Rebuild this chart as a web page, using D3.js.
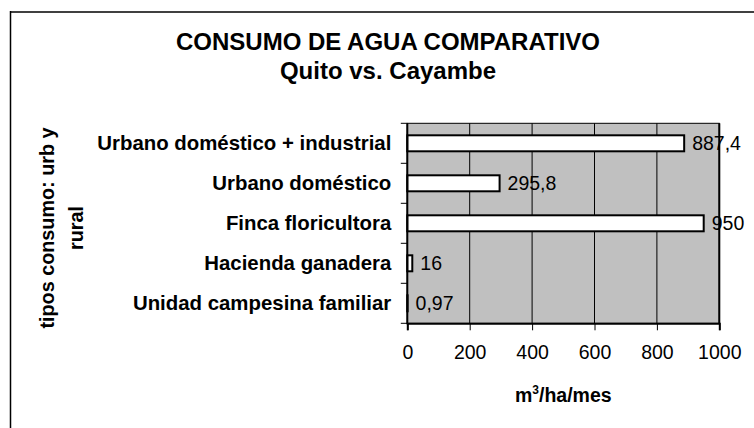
<!DOCTYPE html>
<html lang="es">

<head>
    <meta charset="UTF-8">
    <title>Consumo de agua comparativo</title>
    <script src="https://d3js.org/d3.v7.min.js"></script>
    <style>
        body {
            margin: 0;
            background: #ffffff;
        }

        svg text {
            font-family: "Liberation Sans", Arial, sans-serif;
            fill: #000;
        }

        .bold {
            font-weight: bold;
        }
    </style>
</head>

<body>
    <svg id="chart" width="754" height="428"></svg>
    <script>
        // data
        let categories = ["Urbano doméstico + industrial", "Urbano doméstico", "Finca floricultora",
            "Hacienda ganadera", "Unidad campesina familiar"]
        let values = [887.4, 295.8, 950, 16, 0.97]
        let xTicks = [0, 200, 400, 600, 800, 1000]
        let titleLines = ["CONSUMO DE AGUA COMPARATIVO", "Quito vs. Cayambe"]
        let yTitleLines = ["tipos consumo: urb y", "rural"]

        let width = 754
        let height = 428
        let plot = { left: 407.3, right: 719.3, top: 123.3, bottom: 323.3 }

        let svg = d3.select("#chart")

        // chart area frame (only top and left edges visible)
        svg.append("line")
            .attr("x1", 10).attr("x2", width).attr("y1", 12).attr("y2", 12)
            .attr("stroke", "#404040").attr("stroke-width", 2)
        svg.append("line")
            .attr("x1", 10.5).attr("x2", 10.5).attr("y1", 11).attr("y2", height)
            .attr("stroke", "#000").attr("stroke-width", 1.5)

        // titles
        svg.append("g").selectAll("text")
            .data(titleLines)
            .join("text")
            .attr("class", "bold")
            .attr("x", 388)
            .attr("y", (d, i) => 50 + i * 28.5)
            .attr("text-anchor", "middle")
            .style("font-size", "24px")
            .text(d => d)

        let x = d3.scaleLinear().domain([0, 1000]).range([plot.left, plot.right])
        let y = d3.scaleBand().domain(categories).range([plot.top, plot.bottom])
            .paddingInner(0.6).paddingOuter(0.3)

        // plot background
        svg.append("rect")
            .attr("x", plot.left).attr("y", plot.top)
            .attr("width", plot.right - plot.left).attr("height", plot.bottom - plot.top)
            .attr("fill", "#c0c0c0")

        // vertical gridlines
        svg.append("g").selectAll("line")
            .data(xTicks.slice(1, -1))
            .join("line")
            .attr("x1", d => x(d)).attr("x2", d => x(d))
            .attr("y1", plot.top).attr("y2", plot.bottom)
            .attr("stroke", "#000").attr("stroke-width", 1)

        // bars
        svg.append("g").selectAll("rect")
            .data(values)
            .join("rect")
            .attr("x", x(0))
            .attr("y", (d, i) => y(categories[i]))
            .attr("width", d => x(d) - x(0))
            .attr("height", y.bandwidth())
            .attr("fill", "#fff")
            .attr("stroke", "#000")
            .attr("stroke-width", 2)

        // plot border
        svg.append("rect")
            .attr("x", plot.left).attr("y", plot.top)
            .attr("width", plot.right - plot.left).attr("height", plot.bottom - plot.top)
            .attr("fill", "none")
            .attr("stroke", "#000").attr("stroke-width", 1)
        svg.append("line")
            .attr("x1", plot.right).attr("x2", plot.right)
            .attr("y1", plot.top).attr("y2", plot.bottom)
            .attr("stroke", "#000").attr("stroke-width", 2)

        // value labels
        svg.append("g").selectAll("text")
            .data(values)
            .join("text")
            .attr("x", d => x(d) + 8)
            .attr("y", (d, i) => y(categories[i]) + y.bandwidth() / 2)
            .attr("dy", "0.36em")
            .style("font-size", "19.5px")
            .text(d => String(d).replace(".", ","))

        // x axis
        let xAxis = d3.axisBottom(x).tickValues(xTicks).tickFormat(d3.format("d"))
            .tickSize(7).tickPadding(15)
        let gx = svg.append("g")
            .attr("transform", `translate(0,${plot.bottom})`)
            .call(xAxis)
        gx.select(".domain").attr("stroke", "#000").attr("stroke-width", 2)
        gx.selectAll(".tick line").attr("stroke", "#000").attr("stroke-width", 1)
        gx.selectAll(".tick text")
            .style("font-size", "19.5px")
            .style("font-family", "'Liberation Sans', Arial, sans-serif")
            .attr("fill", "#000")

        // y axis: labels at band centres, ticks at band edges
        let yAxis = d3.axisLeft(y).tickSize(0).tickPadding(16)
        let gy = svg.append("g")
            .attr("transform", `translate(${plot.left},0)`)
            .call(yAxis)
        gy.select(".domain").remove()
        gy.selectAll(".tick text")
            .attr("class", "bold")
            .style("font-size", "20.4px")
            .style("font-family", "'Liberation Sans', Arial, sans-serif")
            .attr("fill", "#000")

        let step = y.step()
        let edges = categories.map(c => y(c) - step * y.paddingInner() / 2)
        edges.push(plot.bottom)
        svg.append("g").selectAll("line")
            .data(edges)
            .join("line")
            .attr("x1", plot.left - 6.5).attr("x2", plot.left)
            .attr("y1", d => d).attr("y2", d => d)
            .attr("stroke", "#000").attr("stroke-width", 1)
        svg.append("line")
            .attr("x1", plot.left).attr("x2", plot.left)
            .attr("y1", plot.top).attr("y2", plot.bottom + 1)
            .attr("stroke", "#000").attr("stroke-width", 2)

        // x axis title with superscript
        let xt = svg.append("text")
            .attr("class", "bold")
            .attr("x", (plot.left + plot.right) / 2)
            .attr("y", 402)
            .attr("text-anchor", "middle")
            .style("font-size", "19.5px")
        xt.append("tspan").text("m")
        xt.append("tspan").attr("dy", -8).style("font-size", "12px").text("3")
        xt.append("tspan").attr("dy", 8).text("/ha/mes")

        // y axis title, rotated, two lines
        svg.append("g")
            .attr("transform", "translate(0,228) rotate(-90)")
            .selectAll("text")
            .data(yTitleLines)
            .join("text")
            .attr("class", "bold")
            .attr("x", 0)
            .attr("y", (d, i) => 54 + i * 29)
            .attr("text-anchor", "middle")
            .style("font-size", "19.8px")
            .text(d => d)
    </script>
</body>

</html>
